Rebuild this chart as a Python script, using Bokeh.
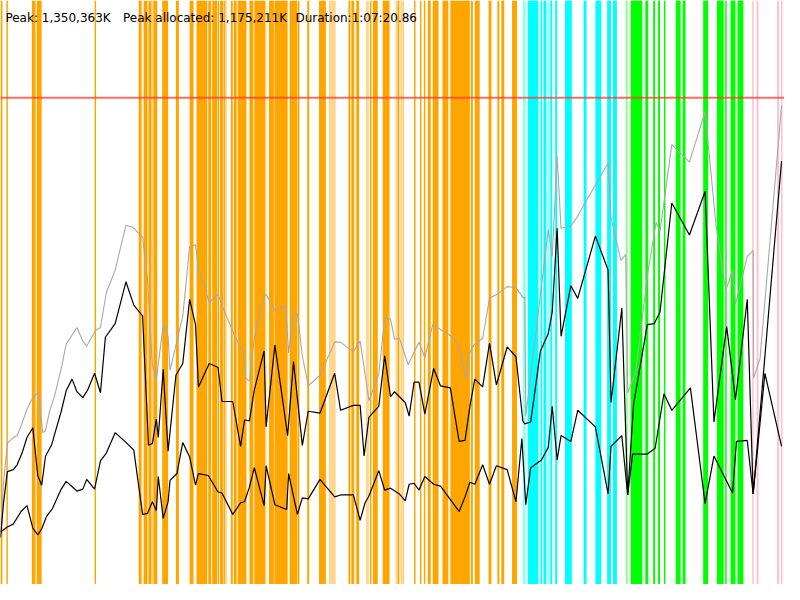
from bokeh.plotting import figure
from bokeh.models import Range1d, Span
from bokeh.embed import file_html
from bokeh.resources import INLINE
from bokeh.core.properties import value

# ---- header texts ----
header_texts = ["Peak: 1,350,363K", "Peak allocated: 1,175,211K", "Duration:1:07:20.86"]
header_x = [5, 125, 301]

# ---- limit line (scaled memory units) ----
limit_level = 500

# ---- phase bands (x intervals) ----
orange_left = [0, 6, 32, 37, 96, 141, 146, 151, 156, 165, 179, 193,
               200, 212, 216, 221.5, 224, 227.5, 235, 238, 242, 254, 259, 274, 279.5, 295, 303.5, 313, 325,
               355, 358, 363, 377, 380, 390,
               405, 422, 428, 432, 436, 441, 451, 459, 480, 484, 498, 507, 511, 522]
orange_right = [2, 7.5, 35.5, 42, 97.5, 144, 150, 154, 160, 171, 182, 197,
                211, 215, 221, 223, 227, 229, 237, 241, 251, 258, 270, 279, 293, 303, 305, 315, 332,
                357, 361, 366, 378.5, 385, 397,
                407, 423.5, 429.5, 433.5, 439, 447, 457, 479, 482, 489, 501, 509, 514, 527]
orange_light_left = [35.5, 154, 229, 270, 335, 373, 403, 408]
orange_light_right = [36.5, 156, 231, 271.5, 342, 376, 404.5, 412]

cyan_left = [538, 551, 554, 561, 566, 576, 595, 607, 619, 625]
cyan_right = [549, 552.5, 557, 563, 568, 583, 598, 613, 623, 629]
cyan_light_left = [533, 558]
cyan_light_right = [536, 560]

green_left = [643, 658, 666, 671, 677, 689, 696, 717, 731, 739.5, 745, 752]
green_right = [655, 661, 668, 673, 678.5, 694, 699, 722, 738, 741, 750, 758]
green_light_left = [638]
green_light_right = [640]

pink_left = [767, 771.5, 792.5, 796.5]
pink_right = [768.5, 773.5, 794.5, 798]

# ---- series: gray (total heap) ----
gray_x = [0, 3, 7, 13, 17, 21, 27, 33, 38, 39,
          43, 46, 50, 55, 62, 67, 78, 84, 88, 97,
          102, 108, 117, 128, 135, 145, 150, 155, 159, 166,
          171, 173, 180, 186, 193, 199, 202, 213, 222, 230,
          240, 248, 250, 254, 259, 269, 271, 280, 291, 294,
          299, 303, 308, 314, 326, 341, 347, 360, 367, 376,
          386, 392, 398, 402, 407, 416, 427, 433, 441, 460,
          467, 475, 478, 483, 492, 499, 508, 517, 526, 533,
          535, 536, 559, 563, 568, 572, 582, 588, 620, 623,
          633, 638, 640, 648, 660, 669, 673, 685, 703, 719,
          730, 740, 747, 750, 762, 768, 768.5, 775, 797]
gray_y = [50, 103, 145, 151, 153, 163, 180, 192, 197, 196,
          156, 158, 178, 193, 222, 247, 264, 250, 245, 261,
          264, 300, 323, 369, 367, 357, 313, 225, 210, 267,
          255, 220, 250, 276, 347, 349, 325, 290, 298, 277,
          253, 238, 212, 209, 253, 297, 298, 282, 286, 238,
          278, 278, 235, 204, 215, 249, 249, 239, 250, 189,
          216, 273, 273, 252, 253, 226, 249, 233, 267, 255,
          248, 211, 237, 246, 253, 294, 299, 306, 305, 295,
          295, 173, 365, 337, 440, 366, 368, 377, 433, 377,
          333, 339, 197, 217, 317, 372, 363, 452, 434, 486,
          370, 302, 323, 288, 337, 343, 212, 232, 492]

# ---- series: allocated (middle black) ----
mid_x = [0, 3, 7, 13, 17, 22, 27, 33, 38, 42,
         46, 52, 56, 62, 67, 73, 78, 84, 89, 96,
         102, 107, 117, 128, 136, 145, 151, 155, 159, 161,
         166, 171, 179, 186, 193, 199, 202, 213, 222, 226,
         237, 245, 249, 254, 259, 269, 271, 280, 293, 299,
         308, 314, 326, 341, 347, 360, 367, 371, 376, 386,
         392, 398, 402, 413, 417, 422, 427, 433, 442, 449,
         459, 468, 474, 479, 484, 492, 499, 506, 517, 526,
         533, 535, 541, 551, 559, 563, 568, 572, 582, 589,
         607, 620, 623, 634, 640, 646, 660, 667, 673, 685,
         703, 719, 728, 741, 750, 762, 768, 797]
mid_y = [48, 83, 116, 118, 123, 135, 151, 161, 112, 102,
         132, 143, 157, 178, 199, 211, 198, 192, 200, 217,
         197, 254, 268, 311, 287, 276, 143, 145, 170, 151,
         221, 137, 215, 227, 293, 267, 203, 227, 223, 188,
         188, 142, 169, 168, 200, 240, 162, 246, 153, 229,
         143, 178, 176, 217, 179, 184, 184, 132, 172, 183,
         235, 193, 198, 187, 173, 208, 208, 175, 222, 204,
         202, 147, 148, 183, 211, 203, 248, 205, 244, 234,
         168, 165, 167, 240, 258, 280, 366, 255, 307, 294,
         358, 323, 187, 284, 92, 185, 267, 268, 280, 392,
         359, 404, 167, 265, 190, 293, 93, 435]

# ---- series: live (bottom black) ----
low_x = [0, 7, 13, 21, 27, 33, 38, 42, 47, 53,
         62, 67, 78, 84, 88, 96, 102, 108, 117, 128,
         136, 145, 150, 155, 159, 161, 166, 171, 173, 180,
         186, 193, 199, 202, 212, 222, 226, 237, 245, 249,
         254, 259, 269, 271, 280, 292, 294, 303, 308, 314,
         326, 341, 347, 360, 367, 372, 376, 386, 392, 398,
         407, 413, 417, 422, 427, 433, 442, 449, 468, 474,
         479, 484, 492, 499, 506, 517, 526, 532, 536, 541,
         552, 559, 563, 568, 572, 582, 589, 607, 620, 623,
         634, 640, 645, 660, 668, 677, 685, 704, 719, 728,
         747, 751, 762, 768, 780, 797]
low_y = [54, 59, 62, 75, 81, 58, 51, 57, 70, 78,
         98, 106, 96, 98, 108, 98, 127, 135, 156, 146,
         138, 72, 73, 85, 76, 111, 68, 85, 107, 114,
         146, 131, 102, 114, 112, 95, 94, 72, 84, 85,
         100, 120, 81, 122, 82, 77, 114, 72, 89, 88,
         108, 90, 92, 92, 66, 84, 91, 117, 97, 99,
         93, 86, 103, 104, 97, 111, 103, 101, 75, 90,
         105, 103, 123, 103, 122, 118, 85, 150, 82, 120,
         128, 141, 183, 128, 153, 147, 179, 162, 93, 142,
         153, 92, 134, 134, 140, 196, 179, 202, 83, 132,
         94, 147, 148, 93, 217, 142]

p = figure(width=784, height=584, output_backend="svg", toolbar_location=None,
           x_range=Range1d(0, 800), y_range=Range1d(0, 600),
           min_border=0, min_border_left=0, min_border_right=0,
           min_border_top=0, min_border_bottom=0)
p.axis.visible = False
p.grid.visible = False
p.outline_line_color = None
p.background_fill_color = "white"
p.border_fill_color = "white"

def bands(lefts, rights, color, alpha):
    p.quad(left=lefts, right=rights, bottom=0, top=600, fill_color=color,
           fill_alpha=alpha, line_color=None)

bands(orange_left, orange_right, "#FFA500", 1.0)
bands(orange_light_left, orange_light_right, "#FFA500", 0.45)
bands(cyan_left, cyan_right, "#00FFFF", 1.0)
bands(cyan_light_left, cyan_light_right, "#00FFFF", 0.45)
bands(green_left, green_right, "#00FF00", 1.0)
bands(green_light_left, green_light_right, "#00FF00", 0.45)
bands(pink_left, pink_right, "#FFC0CB", 1.0)

p.line(gray_x, gray_y, line_color="#A8A8A8", line_width=1.1)
p.line(mid_x, mid_y, line_color="black", line_width=1.2)
p.line(low_x, low_y, line_color="black", line_width=1.2)

p.add_layout(Span(location=limit_level, dimension="width", line_color="#FF3B30",
                  line_alpha=0.75, line_width=2))

p.text(x=header_x, y=[582] * len(header_x), text=header_texts,
       text_font=value("DejaVu Sans"), text_font_size="12px",
       text_color="black", text_baseline="alphabetic", text_align="left")

open("out.html", "w").write(file_html(p, INLINE))
